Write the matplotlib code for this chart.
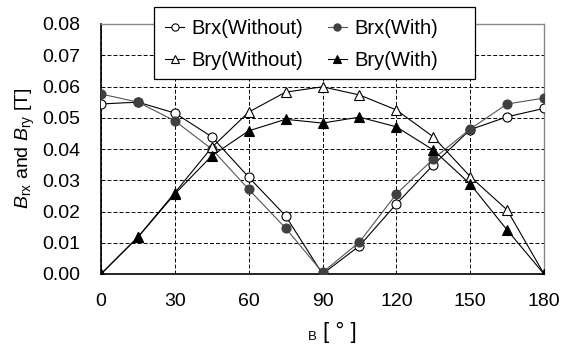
import matplotlib
matplotlib.use("Agg")
import matplotlib.pyplot as plt
from matplotlib.patches import Rectangle

plt.rcParams['font.family'] = ['Liberation Sans', 'DejaVu Sans']
plt.rcParams['mathtext.fontset'] = 'custom'
plt.rcParams['mathtext.rm'] = 'Liberation Sans'
plt.rcParams['mathtext.it'] = 'Liberation Sans:italic'

angles = [0, 15, 30, 45, 60, 75, 90, 105, 120, 135, 150, 165, 180]
brx_without = [0.0544, 0.0550, 0.0515, 0.0439, 0.0310, 0.0186, 0.0000, 0.0090, 0.0224, 0.0349, 0.0462, 0.0503, 0.0530]
brx_with = [0.0576, 0.0550, 0.0490, 0.0400, 0.0271, 0.0147, 0.0005, 0.0102, 0.0256, 0.0368, 0.0464, 0.0544, 0.0563]
bry_without = [0.0000, 0.0118, 0.0260, 0.0405, 0.0518, 0.0582, 0.0599, 0.0573, 0.0525, 0.0439, 0.0312, 0.0205, 0.0000]
bry_with = [0.0000, 0.0118, 0.0256, 0.0378, 0.0458, 0.0495, 0.0483, 0.0502, 0.0471, 0.0397, 0.0288, 0.0141, 0.0000]

xticks = [0, 30, 60, 90, 120, 150, 180]
yticks = [0.00, 0.01, 0.02, 0.03, 0.04, 0.05, 0.06, 0.07, 0.08]

W, H = 569, 344
fig = plt.figure(figsize=(W / 100, H / 100), dpi=100)
ax = fig.add_axes([101 / W, 1 - 274 / H, 443 / W, 250 / H])

ms = 6.5
l1, = ax.plot(angles, brx_without, '-o', color='black', lw=0.8, ms=ms,
              mfc='white', mec='black', mew=0.8, label='Brx(Without)', zorder=3)
l2, = ax.plot(angles, brx_with, '-o', color='#555555', lw=0.8, ms=ms,
              mfc='#404040', mec='#404040', mew=0.8, label='Brx(With)', zorder=3)
l3, = ax.plot(angles, bry_without, '-^', color='black', lw=0.8, ms=ms,
              mfc='white', mec='black', mew=0.8, label='Bry(Without)', zorder=3)
l4, = ax.plot(angles, bry_with, '-^', color='black', lw=0.8, ms=ms,
              mfc='black', mec='black', mew=0.8, label='Bry(With)', zorder=3)

ax.set_xlim(0, 180)
ax.set_ylim(0, 0.08)
ax.set_xticks(xticks)
ax.set_yticks(yticks)
ax.set_yticklabels([f"{v:.2f}" for v in yticks])
ax.tick_params(axis='both', length=0, labelsize=14)
ax.tick_params(axis='y', pad=15)
ax.tick_params(axis='x', pad=14)
ax.grid(True, color='black', linestyle=(0, (4, 2.2)), linewidth=0.7)

for s in ['left', 'bottom']:
    ax.spines[s].set_color('black')
    ax.spines[s].set_linewidth(1.2)
for s in ['top', 'right']:
    ax.spines[s].set_color('#888888')
    ax.spines[s].set_linewidth(1.0)

ax.set_ylabel(r"$B_{\mathrm{rx}}$ and $B_{\mathrm{ry}}$ [T]", fontsize=14)
ax.yaxis.set_label_coords((37 - 101) / 443, 0.502)

# x-axis label as rendered in the reference
fig.text(308 / W, 1 - 340 / H, "B", fontsize=9.5, ha='left', va='baseline')
fig.text(323 / W, 1 - 338 / H, "[ ° ]", fontsize=16, ha='left', va='baseline')

# legend box
box = Rectangle(((154 - 101) / 443, (274 - 79) / 250), 321 / 443, 72 / 250,
                transform=ax.transAxes, facecolor='white', edgecolor='black',
                linewidth=0.9, clip_on=False, zorder=4)
ax.add_patch(box)
leg = ax.legend(handles=[l1, l3, l2, l4], ncol=2, loc='upper left',
                bbox_to_anchor=((165 - 101) / 443, (274 - 19) / 250),
                fontsize=14.5, frameon=False, borderpad=0, borderaxespad=0,
                handlelength=0.95, handletextpad=0.38, columnspacing=1.2,
                labelspacing=0.65, markerscale=0.8)
leg.set_zorder(5)

fig.savefig("out.png", dpi=100)
